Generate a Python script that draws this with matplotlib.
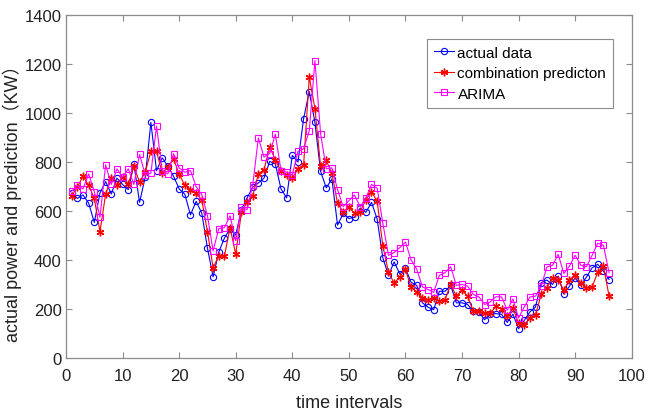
"""Actual power vs. combination prediction vs. ARIMA over 96 time intervals."""

import numpy as np
import matplotlib
matplotlib.use('Agg')
from matplotlib import pyplot as plt

# values (KW), time intervals 1..96
intervals = list(range(1, 97))

actual_data = [
    673, 651, 665, 632, 553, 673, 720, 669, 734, 708,
    687, 790, 635, 738, 961, 764, 817, 782, 742, 690,
    668, 584, 639, 591, 448, 331, 432, 489, 528, 501,
    605, 653, 697, 714, 734, 802, 792, 690, 653, 827,
    799, 977, 1087, 961, 762, 694, 731, 542, 590, 569,
    574, 612, 594, 635, 567, 409, 337, 392, 343, 366,
    309, 296, 225, 207, 197, 272, 272, 296, 225, 225,
    218, 190, 186, 156, 178, 181, 178, 145, 179, 119,
    153, 188, 208, 307, 318, 300, 334, 261, 293, 327,
    296, 330, 368, 382, 354, 320,
]

combination_prediction = [
    662, 697, 742, 704, 651, 515, 669, 734, 706, 738,
    710, 782, 717, 758, 843, 843, 755, 779, 813, 751,
    704, 687, 672, 645, 516, 368, 416, 416, 532, 423,
    594, 635, 662, 751, 769, 861, 809, 762, 747, 734,
    772, 788, 1146, 1018, 783, 806, 754, 631, 597, 615,
    591, 597, 645, 679, 639, 458, 350, 305, 330, 362,
    288, 268, 245, 238, 245, 231, 238, 300, 252, 276,
    252, 190, 190, 183, 183, 210, 200, 170, 204, 142,
    135, 163, 177, 259, 286, 327, 320, 276, 320, 337,
    307, 286, 290, 350, 375, 252,
]

arima = [
    680, 704, 690, 751, 679, 574, 788, 708, 772, 738,
    772, 708, 831, 747, 754, 946, 765, 751, 834, 775,
    758, 765, 699, 667, 580, 437, 528, 532, 580, 478,
    615, 605, 704, 898, 820, 834, 913, 765, 758, 747,
    843, 854, 927, 1214, 916, 772, 776, 687, 617, 642,
    665, 617, 652, 708, 693, 550, 419, 430, 450, 473,
    400, 362, 290, 279, 268, 337, 348, 372, 296, 300,
    293, 259, 249, 218, 229, 250, 249, 195, 241, 163,
    208, 249, 252, 293, 371, 378, 423, 345, 375, 419,
    378, 372, 419, 468, 460, 348,
]

x_ticks = list(range(0, 101, 10))
y_ticks = list(range(0, 1401, 200))

FONT = ['Liberation Sans', 'DejaVu Sans']
FRAME = '#8c8c8c'
ASTERISK = (6, 2, 0)  # MATLAB-style '*' marker


def plot_series(ax):
    "Draws the three series the way MATLAB would"
    ax.plot(intervals, actual_data, '-', marker='o', color='#0000ff', lw=0.8,
            ms=4.5, mfc='none', mew=0.8, label='actual data')
    ax.plot(intervals, combination_prediction, '-', marker=ASTERISK,
            color='#ff0000', lw=0.8, ms=5.5, mew=1.0,
            label='combination predicton')
    ax.plot(intervals, arima, '-', marker='s', color='#ff00ff', lw=0.8,
            ms=3.8, mfc='none', mew=0.8, label='ARIMA')


def style_axes(ax):
    "Box, inward ticks on all four sides, grey frame"
    ax.set_xlim(0, 100)
    ax.set_ylim(0, 1400)
    ax.set_xticks(x_ticks)
    ax.set_yticks(y_ticks)
    for s in ax.spines.values():
        s.set_color(FRAME)
        s.set_linewidth(0.9)
    ax.tick_params(direction='in', length=4, width=0.8, color=FRAME,
                   top=True, right=True, labelcolor='#222222')
    ax.tick_params(axis='x', pad=7)
    ax.tick_params(axis='y', pad=3)
    for lab in ax.get_xticklabels() + ax.get_yticklabels():
        lab.set_family(FONT)
        lab.set_fontsize(12)
    ax.set_xlabel('time intervals', family=FONT, fontsize=13,
                  color='#222222', labelpad=8)
    ax.set_ylabel('actual power and prediction（KW）',
                  family=['Liberation Sans', 'Noto Sans CJK SC'],
                  fontsize=13, color='#222222', labelpad=2)
    ax.yaxis.label.set_y(0.465)


def main():
    fig = plt.figure(figsize=(6.57, 4.14), dpi=100)
    ax = fig.add_axes([0.1005, 0.133, 0.861, 0.8285])
    plot_series(ax)
    style_axes(ax)
    leg = ax.legend(loc='upper left', bbox_to_anchor=(0.638, 0.930),
                    borderaxespad=0, fancybox=False, framealpha=1,
                    edgecolor=FRAME, handlelength=1.3, handletextpad=0.25,
                    labelspacing=0.42, borderpad=0.45,
                    prop={'family': FONT, 'size': 11})
    leg.get_frame().set_linewidth(0.8)
    fig.savefig('out.png', dpi=100)


main()
